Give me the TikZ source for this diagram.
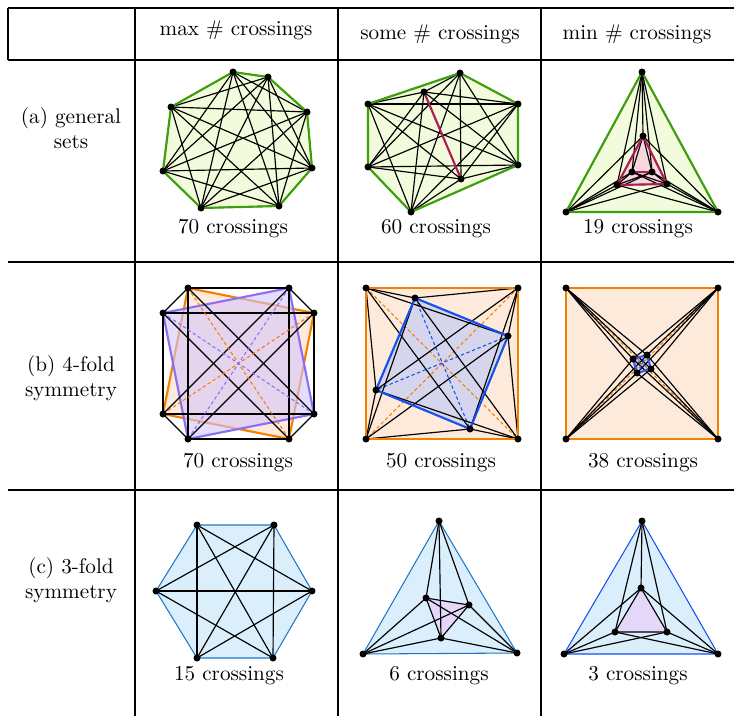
\documentclass[tikz,border=0pt]{standalone}
\usepackage{tikz}
\usetikzlibrary{positioning}

\definecolor{hullgreen}{RGB}{60,160,10}
\definecolor{fillgreen}{RGB}{243,251,221}
\definecolor{redge}{RGB}{175,30,80}
\definecolor{fillpink}{RGB}{247,215,220}
\definecolor{orng}{RGB}{245,128,0}
\definecolor{fillorange}{RGB}{253,234,218}
\definecolor{purp}{RGB}{140,110,245}
\definecolor{fillpurple}{RGB}{212,198,250}
\definecolor{bluesq}{RGB}{20,80,240}
\definecolor{fillbluesq}{RGB}{213,213,238}
\definecolor{hullblue}{RGB}{30,120,200}
\definecolor{fillblue}{RGB}{218,238,252}
\definecolor{filllilac}{RGB}{228,215,250}

\begin{document}
\begin{tikzpicture}[
    x=0.472pt, y=-0.472pt,
    edge/.style={black, line width=0.55pt},
    dot/.style={circle, fill=black, inner sep=0pt, minimum size=3.3pt},
    rule/.style={line width=0.8pt},
    hullg/.style={draw=hullgreen, line width=1pt, fill=fillgreen},
    hullb/.style={draw=hullblue, line width=0.5pt, fill=fillblue},
    sqo/.style={draw=orng, line width=1pt, fill=fillorange},
    dasho/.style={orng, dash pattern=on 1.6pt off 1.2pt, line width=0.5pt},
    dashb/.style={bluesq, dash pattern=on 1.6pt off 1.2pt, line width=0.5pt},
    dashp/.style={purp, dash pattern=on 1.6pt off 1.2pt, line width=0.5pt}
]
    \useasboundingbox (0,0) rectangle (734,716);

    % table
    \draw[rule] (8,8) -- (734,8);
    \draw[rule] (8,60) -- (734,60);
    \draw[rule] (8,262) -- (734,262);
    \draw[rule] (8,490) -- (734,490);
    \draw[rule] (8,8) -- (8,60);
    \foreach \x in {135,338,541}
        \draw[rule] (\x,8) -- (\x,716);

    \node (hmax) at (236,30) {max \# crossings};
    \node (hsome) at (440,34) {some \# crossings};
    \node (hmin) at (637,34) {min \# crossings};
    \node[align=center] (rowa) at (71,128) {(a) general\\sets};
    \node[align=center] (rowb) at (71,378) {(b) 4-fold\\symmetry};
    \node[align=center] (rowc) at (71,580) {(c) 3-fold\\symmetry};

    % (a) max
    \coordinate (amx1) at (233,72);
    \coordinate (amx2) at (268,77);
    \coordinate (amx3) at (307,112);
    \coordinate (amx4) at (312,168);
    \coordinate (amx5) at (279,206);
    \coordinate (amx6) at (201,208);
    \coordinate (amx7) at (163,171);
    \coordinate (amx8) at (171,107);
    \fill[fillgreen] (amx1) -- (amx2) -- (amx3) -- (amx4) -- (amx5) -- (amx6) -- (amx7) -- (amx8) -- cycle;
    \foreach \i in {1,...,7}{
        \pgfmathtruncatemacro{\k}{\i+1}
        \foreach \j in {\k,...,8}
            \draw[edge] (amx\i) -- (amx\j);
    }
    \draw[hullg, fill=none] (amx1) -- (amx2) -- (amx3) -- (amx4) -- (amx5) -- (amx6) -- (amx7) -- (amx8) -- cycle;
    \foreach \i in {1,...,8}
        \node[dot] at (amx\i) {};
    \node (lamx) at (233,229) {70 crossings};

    % (a) some
    \coordinate (asm1) at (460,73);
    \coordinate (asm2) at (518,104);
    \coordinate (asm3) at (518,165);
    \coordinate (asm4) at (411,212);
    \coordinate (asm5) at (368,167);
    \coordinate (asm6) at (368,104);
    \coordinate (asm7) at (424,92);
    \coordinate (asm8) at (461,179);
    \fill[fillgreen] (asm1) -- (asm2) -- (asm3) -- (asm4) -- (asm5) -- (asm6) -- cycle;
    \foreach \i in {1,...,7}{
        \pgfmathtruncatemacro{\k}{\i+1}
        \foreach \j in {\k,...,8}
            \draw[edge] (asm\i) -- (asm\j);
    }
    \draw[hullg, fill=none] (asm1) -- (asm2) -- (asm3) -- (asm4) -- (asm5) -- (asm6) -- cycle;
    \draw[redge, line width=1pt] (asm7) -- (asm8);
    \foreach \i in {1,...,8}
        \node[dot] at (asm\i) {};
    \node (lasm) at (436,229) {60 crossings};

    % (a) min
    \coordinate (amn1) at (642,72);
    \coordinate (amn2) at (718,212);
    \coordinate (amn3) at (566,212);
    \coordinate (amn4) at (643,136);
    \coordinate (amn5) at (667,184);
    \coordinate (amn6) at (617,185);
    \coordinate (amn7) at (632,172);
    \coordinate (amn8) at (652,172);
    \fill[fillgreen] (amn1) -- (amn2) -- (amn3) -- cycle;
    \fill[fillpink] (amn4) -- (amn5) -- (amn6) -- cycle;
    \foreach \i in {1,...,7}{
        \pgfmathtruncatemacro{\k}{\i+1}
        \foreach \j in {\k,...,8}
            \draw[edge] (amn\i) -- (amn\j);
    }
    \draw[hullg, fill=none] (amn1) -- (amn2) -- (amn3) -- cycle;
    \draw[redge, line width=1pt] (amn4) -- (amn5) -- (amn6) -- cycle;
    \draw[redge, line width=1pt] (amn7) -- (amn8);
    \foreach \i in {1,...,8}
        \node[dot] at (amn\i) {};
    \node (lamn) at (638,229) {19 crossings};

    % (b) max
    \coordinate (bmx1) at (188,288);
    \coordinate (bmx2) at (289,288);
    \coordinate (bmx3) at (314,313);
    \coordinate (bmx4) at (314,414);
    \coordinate (bmx5) at (289,439);
    \coordinate (bmx6) at (188,439);
    \coordinate (bmx7) at (163,414);
    \coordinate (bmx8) at (163,313);
    \draw[sqo] (bmx1) -- (bmx3) -- (bmx5) -- (bmx7) -- cycle;
    \fill[fillpurple, fill opacity=0.6] (bmx2) -- (bmx4) -- (bmx6) -- (bmx8) -- cycle;
    \draw[purp, line width=1pt] (bmx2) -- (bmx4) -- (bmx6) -- (bmx8) -- cycle;
    \foreach \i/\j in {1/2,2/3,3/4,4/5,5/6,6/7,7/8,8/1,1/4,2/5,3/6,4/7,5/8,6/1,7/2,8/3}
        \draw[edge] (bmx\i) -- (bmx\j);
    \draw[dasho] (bmx1) -- (bmx5);
    \draw[dasho] (bmx3) -- (bmx7);
    \draw[dashp] (bmx2) -- (bmx6);
    \draw[dashp] (bmx4) -- (bmx8);
    \foreach \i in {1,...,8}
        \node[dot] at (bmx\i) {};
    \node (lbmx) at (238,463) {70 crossings};

    % (b) some
    \coordinate (bsm1) at (366,288);
    \coordinate (bsm2) at (518,288);
    \coordinate (bsm3) at (518,439);
    \coordinate (bsm4) at (366,439);
    \coordinate (bsi1) at (415,298);
    \coordinate (bsi2) at (508,336);
    \coordinate (bsi3) at (470,429);
    \coordinate (bsi4) at (376,390);
    \fill[fillorange] (bsm1) -- (bsm2) -- (bsm3) -- (bsm4) -- cycle;
    \fill[fillbluesq] (bsi1) -- (bsi2) -- (bsi3) -- (bsi4) -- cycle;
    \draw[dasho] (bsm1) -- (bsm3);
    \draw[dasho] (bsm2) -- (bsm4);
    \draw[dashb] (bsi1) -- (bsi3);
    \draw[dashb] (bsi2) -- (bsi4);
    \foreach \i in {1,...,4}
        \foreach \j in {1,...,4}
            \draw[edge] (bsm\i) -- (bsi\j);
    \draw[sqo, fill=none] (bsm1) -- (bsm2) -- (bsm3) -- (bsm4) -- cycle;
    \draw[bluesq, line width=1pt] (bsi1) -- (bsi2) -- (bsi3) -- (bsi4) -- cycle;
    \foreach \i in {1,...,4}{
        \node[dot] at (bsm\i) {};
        \node[dot] at (bsi\i) {};
    }
    \node (lbsm) at (441,463) {50 crossings};

    % (b) min
    \coordinate (bmn1) at (566,288);
    \coordinate (bmn2) at (718,288);
    \coordinate (bmn3) at (718,439);
    \coordinate (bmn4) at (566,439);
    \coordinate (bmi1) at (633,359);
    \coordinate (bmi2) at (647,355);
    \coordinate (bmi3) at (651,369);
    \coordinate (bmi4) at (637,373);
    \fill[fillorange] (bmn1) -- (bmn2) -- (bmn3) -- (bmn4) -- cycle;
    \fill[fillbluesq] (bmi1) -- (bmi2) -- (bmi3) -- (bmi4) -- cycle;
    \draw[dasho] (bmn1) -- (bmn3);
    \draw[dasho] (bmn2) -- (bmn4);
    \foreach \i in {1,...,4}
        \foreach \j in {1,...,4}
            \draw[edge] (bmn\i) -- (bmi\j);
    \draw[dashb] (bmi1) -- (bmi3);
    \draw[dashb] (bmi2) -- (bmi4);
    \draw[sqo, fill=none] (bmn1) -- (bmn2) -- (bmn3) -- (bmn4) -- cycle;
    \draw[bluesq!70!purp, line width=1pt] (bmi1) -- (bmi2) -- (bmi3) -- (bmi4) -- cycle;
    \foreach \i in {1,...,4}{
        \node[dot] at (bmn\i) {};
        \node[dot] at (bmi\i) {};
    }
    \node (lbmn) at (643,463) {38 crossings};

    % (c) max
    \coordinate (cmx1) at (197,525);
    \coordinate (cmx2) at (274,525);
    \coordinate (cmx3) at (312,591);
    \coordinate (cmx4) at (273,658);
    \coordinate (cmx5) at (197,658);
    \coordinate (cmx6) at (156,591);
    \draw[hullb] (cmx1) -- (cmx2) -- (cmx3) -- (cmx4) -- (cmx5) -- (cmx6) -- cycle;
    \foreach \i/\j in {1/3,2/4,3/5,4/6,5/1,6/2,1/4,2/5,3/6}
        \draw[edge] (cmx\i) -- (cmx\j);
    \foreach \i in {1,...,6}
        \node[dot] at (cmx\i) {};
    \node (lcmx) at (229,676) {15 crossings};

    % (c) some
    \coordinate (csm1) at (439,521);
    \coordinate (csm2) at (517,653);
    \coordinate (csm3) at (363,654);
    \coordinate (csi1) at (426,598);
    \coordinate (csi2) at (469,605);
    \coordinate (csi3) at (441,638);
    \draw[hullb] (csm1) -- (csm2) -- (csm3) -- cycle;
    \draw[edge, fill=filllilac] (csi1) -- (csi2) -- (csi3) -- cycle;
    \foreach \i in {1,2,3}
        \foreach \j in {1,2,3}
            \draw[edge] (csm\i) -- (csi\j);
    \foreach \i in {1,2,3}{
        \node[dot] at (csm\i) {};
        \node[dot] at (csi\i) {};
    }
    \node (lcsm) at (439,676) {6 crossings};

    % (c) min
    \coordinate (cmn1) at (642,521);
    \coordinate (cmn2) at (718,654);
    \coordinate (cmn3) at (564,654);
    \coordinate (cmi1) at (641,588);
    \coordinate (cmi2) at (667,632);
    \coordinate (cmi3) at (615,632);
    \draw[hullb, draw=bluesq] (cmn1) -- (cmn2) -- (cmn3) -- cycle;
    \draw[edge, fill=filllilac] (cmi1) -- (cmi2) -- (cmi3) -- cycle;
    \foreach \i in {1,2,3}
        \foreach \j in {1,2,3}
            \draw[edge] (cmn\i) -- (cmi\j);
    \foreach \i in {1,2,3}{
        \node[dot] at (cmn\i) {};
        \node[dot] at (cmi\i) {};
    }
    \node (lcmn) at (638,676) {3 crossings};
\end{tikzpicture}
\end{document}
